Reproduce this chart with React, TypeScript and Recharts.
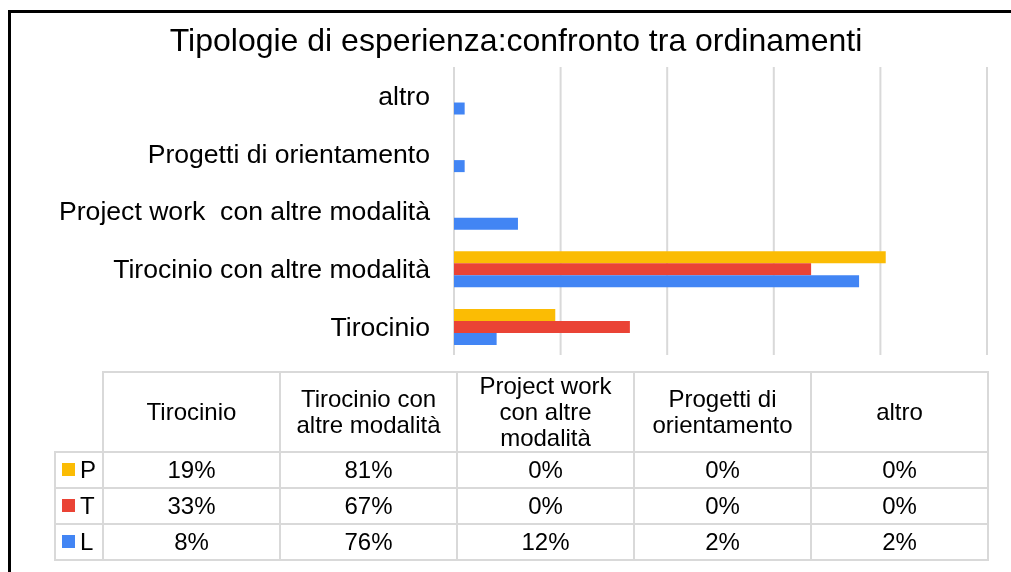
import { BarChart, Bar, XAxis, YAxis, CartesianGrid } from 'recharts';

const categories = [
  'Tirocinio',
  'Tirocinio con altre modalità',
  'Project work\u00a0 con altre modalità',
  'Progetti di orientamento',
  'altro',
];
const headerLines = [
  ['Tirocinio'],
  ['Tirocinio con', 'altre modalità'],
  ['Project work', 'con altre', 'modalità'],
  ['Progetti di', 'orientamento'],
  ['altro'],
];
const seriesNames = ['P', 'T', 'L'];
const valuesP = [19, 81, 0, 0, 0];
const valuesT = [33, 67, 0, 0, 0];
const valuesL = [8, 76, 12, 2, 2];
const xTicks = [0, 20, 40, 60, 80, 100];

const colors: Record<string, string> = { P: '#FBBC04', T: '#EA4335', L: '#4285F4' };
const FONT = '"Liberation Sans", Arial, sans-serif';
const GRID = '#d9d9d9';

const data = categories.map((cat, i) => ({
  cat,
  P: valuesP[i],
  T: valuesT[i],
  L: valuesL[i],
}));
const rows: Record<string, number[]> = { P: valuesP, T: valuesT, L: valuesL };

const cell = {
  border: `2px solid ${GRID}`,
  textAlign: 'center' as const,
  verticalAlign: 'middle' as const,
  padding: 0,
  whiteSpace: 'nowrap' as const,
};

export default function App() {
  return (
    <div style={{ position: 'relative', width: 1003, height: 556, fontFamily: FONT, color: '#000' }}>
      <div
        style={{
          position: 'fixed',
          left: 8,
          top: 10,
          width: 1003,
          height: 562,
          borderTop: '3px solid #000',
          borderLeft: '3px solid #000',
          boxSizing: 'border-box',
        }}
      />
      <div
        style={{
          position: 'absolute',
          left: 0,
          top: 16,
          width: 1016,
          textAlign: 'center',
          fontSize: 32,
          lineHeight: '32px',
        }}
      >
        Tipologie di esperienza:confronto tra ordinamenti
      </div>

      <div style={{ position: 'absolute', left: 0, top: 0 }}>
        <BarChart
          width={1003}
          height={360}
          data={data}
          layout="vertical"
          margin={{ top: 59, right: 24, bottom: 12, left: 0 }}
          barCategoryGap="20%"
          barGap={0}
        >
          <CartesianGrid horizontal={false} stroke={GRID} strokeWidth={2} />
          <XAxis
            type="number"
            domain={[0, 100]}
            ticks={xTicks}
            interval={0}
            tick={() => <g />}
            axisLine={false}
            tickLine={false}
            height={1}
          />
          <YAxis
            type="category"
            dataKey="cat"
            reversed
            width={446}
            interval={0}
            axisLine={false}
            tickLine={false}
            tickSize={0}
            tickMargin={24}
            tick={{ fontSize: 26.6, fill: '#000', fontFamily: FONT }}
          />
          {seriesNames.map(s => (
            <Bar key={s} dataKey={s} fill={colors[s]} isAnimationActive={false} />
          ))}
        </BarChart>
      </div>

      <table
        style={{
          position: 'absolute',
          left: 46,
          top: 363,
          borderCollapse: 'collapse',
          tableLayout: 'fixed',
          width: 934,
          fontSize: 24,
          lineHeight: '26px',
        }}
      >
        <colgroup>
          <col style={{ width: 48 }} />
          {headerLines.map((_, i) => (
            <col key={i} style={{ width: 177 }} />
          ))}
        </colgroup>
        <tbody>
          <tr style={{ height: 80 }}>
            <td style={{ padding: 0, border: 'none', borderRight: `2px solid ${GRID}`, borderBottom: `2px solid ${GRID}` }} />
            {headerLines.map((lines, i) => (
              <td key={i} style={cell}>
                {lines.map((l, j) => (
                  <div key={j}>{l}</div>
                ))}
              </td>
            ))}
          </tr>
          {seriesNames.map(s => (
            <tr key={s} style={{ height: 36 }}>
              <td style={{ ...cell, textAlign: 'left', paddingLeft: 6 }}>
                <span
                  style={{
                    display: 'inline-block',
                    width: 13,
                    height: 13,
                    background: colors[s],
                    marginRight: 5,
                    verticalAlign: 'middle',
                    position: 'relative',
                    top: -2,
                  }}
                />
                {s}
              </td>
              {rows[s].map((v, i) => (
                <td key={i} style={cell}>
                  {v}%
                </td>
              ))}
            </tr>
          ))}
        </tbody>
      </table>
    </div>
  );
}
